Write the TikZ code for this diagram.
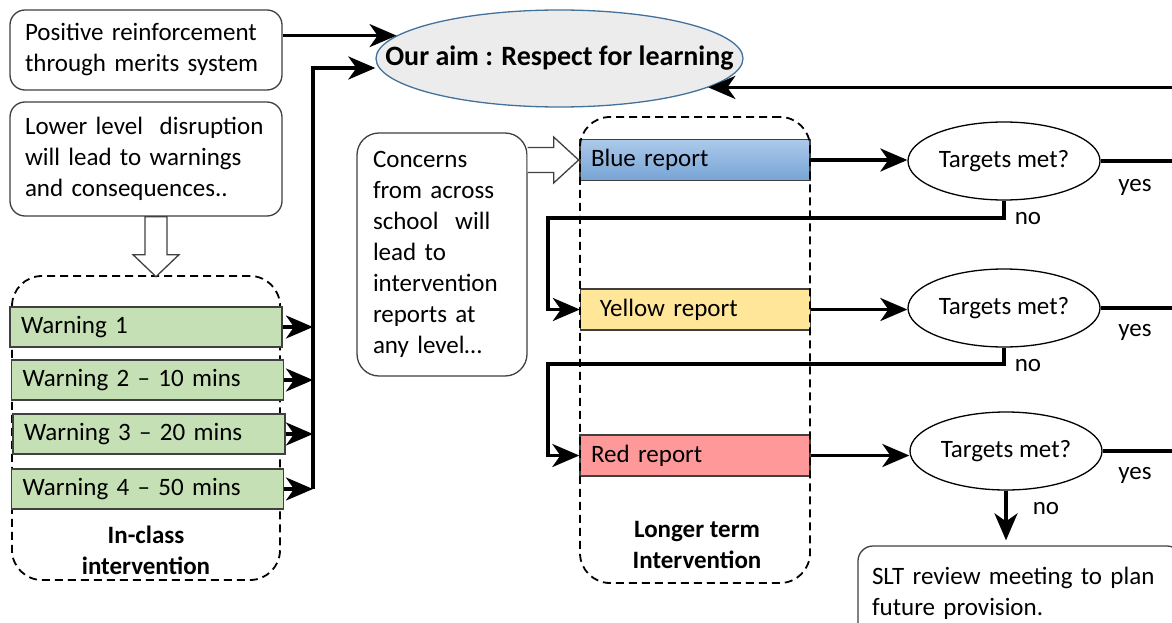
\documentclass[tikz,border=0pt]{standalone}
\usepackage{fontspec}
\setmainfont{Carlito}
\usetikzlibrary{arrows.meta,shapes.geometric,calc}

\definecolor{warngreen}{RGB}{197,224,180}
\definecolor{repyellow}{RGB}{255,230,153}
\definecolor{repred}{RGB}{255,153,153}
\definecolor{bluetop}{RGB}{172,202,234}
\definecolor{bluebot}{RGB}{118,163,213}
\definecolor{aimfill}{RGB}{236,236,236}
\definecolor{aimline}{RGB}{65,113,156}
\definecolor{boxline}{RGB}{64,64,64}

\tikzset{
  txt/.style={font=\fontsize{25}{31}\selectfont},
  titletext/.style={font=\fontsize{25}{31}\selectfont\bfseries, align=center},
  notebox/.style={txt, draw=boxline, line width=1.3pt, rounded corners=15pt, fill=white, align=left, inner sep=0pt},
  warnbox/.style={txt, draw=boxline, line width=1.3pt, fill=warngreen, minimum width=272pt, minimum height=40pt, text width=250pt, align=left, inner sep=0pt},
  reportbox/.style={txt, draw=boxline, line width=1.3pt, minimum width=230pt, minimum height=41pt, text width=208pt, align=left, inner sep=0pt},
  groupbox/.style={draw, dash pattern=on 8pt off 5pt, line width=1.8pt, rounded corners=30pt, inner sep=0pt},
  checkoval/.style={txt, ellipse, draw, line width=1.3pt, minimum width=192pt, minimum height=78pt, inner sep=0pt},
  flowline/.style={line width=3.6pt},
  blockarrow/.style={draw=boxline, line width=1.3pt, fill=white},
  >={Stealth[length=27pt, width=23pt, inset=8pt]}
}

\begin{document}
\begin{tikzpicture}[x=1pt, y=-1pt]
\path[use as bounding box] (0,0) rectangle (1172,623);
\clip (0,0) rectangle (1172,623);

% aim
\node (aim) at (559.5,58.5) [ellipse, draw=aimline, line width=1.3pt, fill=aimfill, minimum width=367pt, minimum height=97pt, inner sep=0pt] {};
\node (aimtext) at (aim.center) [font=\fontsize{28}{34}\selectfont\bfseries] {Our aim : Respect for learning};

% left column
\node (merits) at (146,50) [notebox, minimum width=272pt, minimum height=80pt, text width=242pt] {Positive reinforcement\\through merits system};
\node (lower) at (146,159) [notebox, minimum width=272pt, minimum height=114pt, text width=242pt] {Lower level\ \ disruption\\will lead to warnings\\and consequences..};

\node (inclass) at (146,428) [groupbox, minimum width=268pt, minimum height=304pt] {};
\node (w1) at (146,327) [warnbox] {Warning 1};
\node (w2) at (147.5,380) [warnbox] {Warning 2 -- 10 mins};
\node (w3) at (149,434) [warnbox] {Warning 3 -- 20 mins};
\node (w4) at (147.5,489) [warnbox] {Warning 4 -- 50 mins};
\node (inclasstitle) at (146,550) [titletext] {In-class\\intervention};

\draw[blockarrow, shift={($(lower.south)+(10,0)$)}] (-11,0) -- (11,0) -- (11,38) -- (23,38) -- (0,60) -- (-23,38) -- (-11,38) -- cycle;

\coordinate (bus) at (313,68);
\draw[flowline, ->] (merits.east |- aim.172) -- (aim.172);
\draw[flowline, ->] (w1.east) -- (w1.east -| bus);
\draw[flowline, ->] (w2.east) -- (w2.east -| bus);
\draw[flowline, ->] (w3.east) -- (w3.east -| bus);
\draw[flowline, ->] (w4.east) -- (w4.east -| bus);
\draw[flowline, ->] (bus |- w4.east) -- (bus) -- (bus -| aim.west);

% middle column
\node (concerns) at (442,254.5) [notebox, rounded corners=22pt, minimum width=170pt, minimum height=243pt, text width=138pt] {Concerns\\from across\\school\ \ will\\lead to\\intervention\\reports at\\any level\ldots};

\node (blue) at (695,160) [reportbox, top color=bluetop, bottom color=bluebot] {Blue report};
\node (yellow) at (695.5,309.5) [reportbox, fill=repyellow] {\ Yellow report};
\node (red) at (695,455.5) [reportbox, fill=repred] {Red report};
\node (longer) at (695,350) [groupbox, minimum width=230pt, minimum height=466pt] {};
\node (longertitle) at (697,545) [titletext] {Longer term\\Intervention};

\draw[blockarrow, shift={(concerns.east |- blue.west)}] (0,-12.5) -- (26,-12.5) -- (26,-23) -- (51,0) -- (26,23) -- (26,12.5) -- (0,12.5);

% right column
\node (t1) at (1004,161) [checkoval] {Targets met?};
\node (t2) at (1004,308) [checkoval] {Targets met?};
\node (t3) at (1006,451) [checkoval] {Targets met?};
\node (slt) at (1020,593) [notebox, minimum width=324pt, minimum height=94pt, text width=296pt] {SLT review meeting to plan\\future provision.};

\node (yes1) at (1135,187) [txt] {yes};
\node (yes2) at (1135,332) [txt] {yes};
\node (yes3) at (1135,475) [txt] {yes};
\node (no1) at (1028,219) [txt] {no};
\node (no2) at (1028,366) [txt] {no};
\node (no3) at (1046,509) [txt] {no};

\draw[flowline, ->] (blue.east) -- (blue.east -| t1.west);
\draw[flowline, ->] (yellow.east) -- (yellow.east -| t2.west);
\draw[flowline, ->] (red.east) -- (red.east -| t3.west);

\coordinate (turn1) at (548,218);
\coordinate (turn2) at (548,364);
\draw[flowline, ->] (t1.south) |- (turn1) |- (yellow.west);
\draw[flowline, ->] (t2.south) |- (turn2) |- (red.west);
\draw[flowline, ->, shorten >=5pt] (t3.south) -- (t3.south |- slt.north);

\coordinate (rim) at (1180,0);
\draw[flowline] (t1.east) -- (t1.east -| rim);
\draw[flowline] (t2.east) -- (t2.east -| rim);
\draw[flowline] (t3.east) -- (t3.east -| rim);
\draw[flowline, ->] (rim |- t3.east) -- (rim |- aim.-11) -- (aim.-11);
\end{tikzpicture}
\end{document}
